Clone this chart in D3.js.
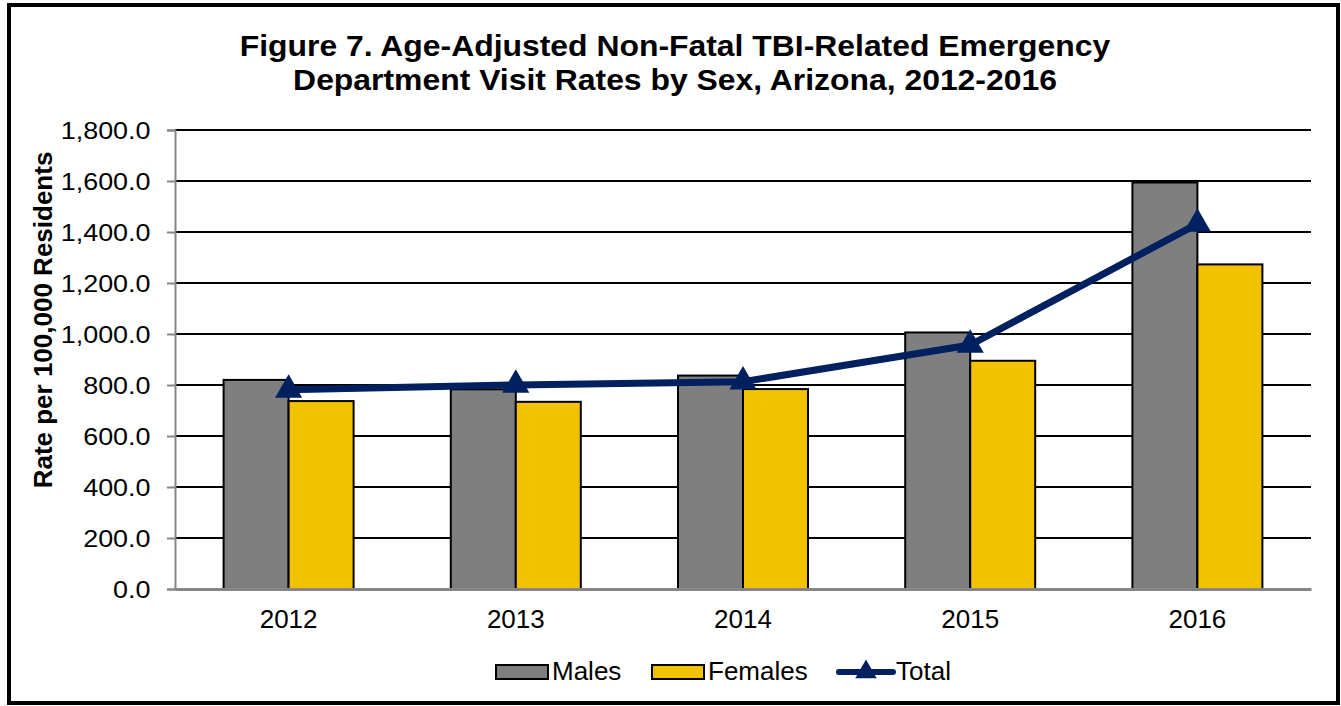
<!DOCTYPE html>
<html>
<head>
<meta charset="utf-8">
<script src="https://cdn.jsdelivr.net/npm/d3@7/dist/d3.min.js"></script>
<style>
  body { margin: 0; background: #fff; }
  svg { display: block; font-family: "Liberation Sans", Arial, sans-serif; }
</style>
</head>
<body>
<div id="chart"></div>
<script>
// chart data
const years = ['2012', '2013', '2014', '2015', '2016'];
const males = [820, 783, 837, 1006, 1594];
const females = [737, 734, 784, 895, 1273];
const total = [781, 800, 813, 957, 1432];
const yTicks = [0, 200, 400, 600, 800, 1000, 1200, 1400, 1600, 1800];
const titleLines = ['Figure 7. Age-Adjusted Non-Fatal TBI-Related Emergency',
  'Department Visit Rates by Sex, Arizona, 2012-2016'];

const W = 1341;
const H = 706;
const margin = { left: 175, right: 30, top: 130, bottom: 117 };
const width = W - margin.left - margin.right;
const height = H - margin.top - margin.bottom;
const FONT = '"Liberation Sans", Arial, sans-serif';

const svg = d3.select('#chart').append('svg')
  .attr('width', W)
  .attr('height', H);

svg.append('rect')
  .attr('x', 9).attr('y', 5)
  .attr('width', 1329).attr('height', 698)
  .attr('fill', '#fff')
  .attr('stroke', '#000')
  .attr('stroke-width', 4);

// title (slightly stretched sideways like the original)
const tsx = 1.1;
svg.append('g')
  .attr('transform', `translate(675,0) scale(${tsx},1)`)
  .selectAll('text')
  .data(titleLines)
  .enter()
  .append('text')
  .attr('x', 0)
  .attr('y', (d, i) => 56 + (i * 34))
  .attr('text-anchor', 'middle')
  .attr('font-size', 29)
  .attr('font-weight', 'bold')
  .text(d => d);

const g = svg.append('g')
  .attr('transform', `translate(${margin.left},${margin.top})`);

const x = d3.scaleBand().domain(years).range([0, width]);
const y = d3.scaleLinear().domain([0, 1800]).range([height, 0]);
const barW = 65;

// gridlines
g.append('g')
  .selectAll('line')
  .data(yTicks.filter(d => d > 0))
  .enter()
  .append('line')
  .attr('x1', 0)
  .attr('x2', width)
  .attr('y1', d => y(d))
  .attr('y2', d => y(d))
  .attr('stroke', '#000')
  .attr('stroke-width', 2);

// y axis
const ysx = 1.17;
const yAxis = g.append('g')
  .call(d3.axisLeft(y)
    .tickValues(yTicks)
    .tickSize(8)
    .tickPadding(10)
    .tickFormat(d3.format(',.1f')));
yAxis.selectAll('line').attr('stroke', '#868686').attr('stroke-width', 2);
yAxis.select('.domain').attr('stroke', '#868686').attr('stroke-width', 2);
yAxis.selectAll('text')
  .attr('font-size', 23)
  .attr('fill', '#000')
  .attr('font-family', FONT)
  .attr('x', -24.5 / ysx)
  .attr('dy', '0.36em')
  .attr('transform', `scale(${ysx},1)`);

// bars
const grp = g.selectAll('.yr')
  .data(years)
  .enter()
  .append('g')
  .attr('class', 'yr');
grp.append('rect')
  .attr('x', d => x(d) + x.bandwidth() / 2 - barW)
  .attr('y', (d, i) => y(males[i]))
  .attr('width', barW)
  .attr('height', (d, i) => height - y(males[i]))
  .attr('fill', '#7f7f7f')
  .attr('stroke', '#000')
  .attr('stroke-width', 2);
grp.append('rect')
  .attr('x', d => x(d) + x.bandwidth() / 2)
  .attr('y', (d, i) => y(females[i]))
  .attr('width', barW)
  .attr('height', (d, i) => height - y(females[i]))
  .attr('fill', '#f2c200')
  .attr('stroke', '#000')
  .attr('stroke-width', 2);

// x axis
const xAxis = g.append('g')
  .attr('transform', `translate(0,${height})`)
  .call(d3.axisBottom(x).tickSize(0).tickPadding(21));
xAxis.select('.domain').attr('stroke', '#868686').attr('stroke-width', 3);
xAxis.selectAll('text')
  .attr('font-size', 26)
  .attr('fill', '#000')
  .attr('font-family', FONT);

// total line
const line = d3.line()
  .x((d, i) => x(years[i]) + x.bandwidth() / 2)
  .y(d => y(d));
g.append('path')
  .datum(total)
  .attr('d', line)
  .attr('fill', 'none')
  .attr('stroke', '#002060')
  .attr('stroke-width', 7)
  .attr('stroke-linejoin', 'round');
const tri = d3.symbol().type(d3.symbolTriangle).size(320);
g.selectAll('.mk')
  .data(total)
  .enter()
  .append('path')
  .attr('class', 'mk')
  .attr('transform', (d, i) => `translate(${x(years[i]) + x.bandwidth() / 2},${y(d)})`)
  .attr('d', tri)
  .attr('fill', '#002060');

// y axis title
svg.append('text')
  .attr('transform', 'translate(52,320) rotate(-90)')
  .attr('text-anchor', 'middle')
  .attr('font-size', 26)
  .attr('font-weight', 'bold')
  .text('Rate per 100,000 Residents');

// legend
const leg = svg.append('g').attr('transform', 'translate(0,672)');
leg.append('rect').attr('x', 496).attr('y', -7).attr('width', 52).attr('height', 14)
  .attr('fill', '#7f7f7f').attr('stroke', '#000').attr('stroke-width', 2);
leg.append('text').attr('x', 552).attr('y', 8).attr('font-size', 26).text('Males');
leg.append('rect').attr('x', 652).attr('y', -7).attr('width', 52).attr('height', 14)
  .attr('fill', '#f2c200').attr('stroke', '#000').attr('stroke-width', 2);
leg.append('text').attr('x', 708).attr('y', 8).attr('font-size', 26).text('Females');
leg.append('line').attr('x1', 839).attr('x2', 893).attr('y1', 0).attr('y2', 0)
  .attr('stroke', '#002060').attr('stroke-width', 6).attr('stroke-linecap', 'round');
leg.append('path').attr('transform', 'translate(866,0)')
  .attr('d', d3.symbol().type(d3.symbolTriangle).size(200))
  .attr('fill', '#002060');
leg.append('text').attr('x', 896).attr('y', 8).attr('font-size', 26).text('Total');
</script>
</body>
</html>
